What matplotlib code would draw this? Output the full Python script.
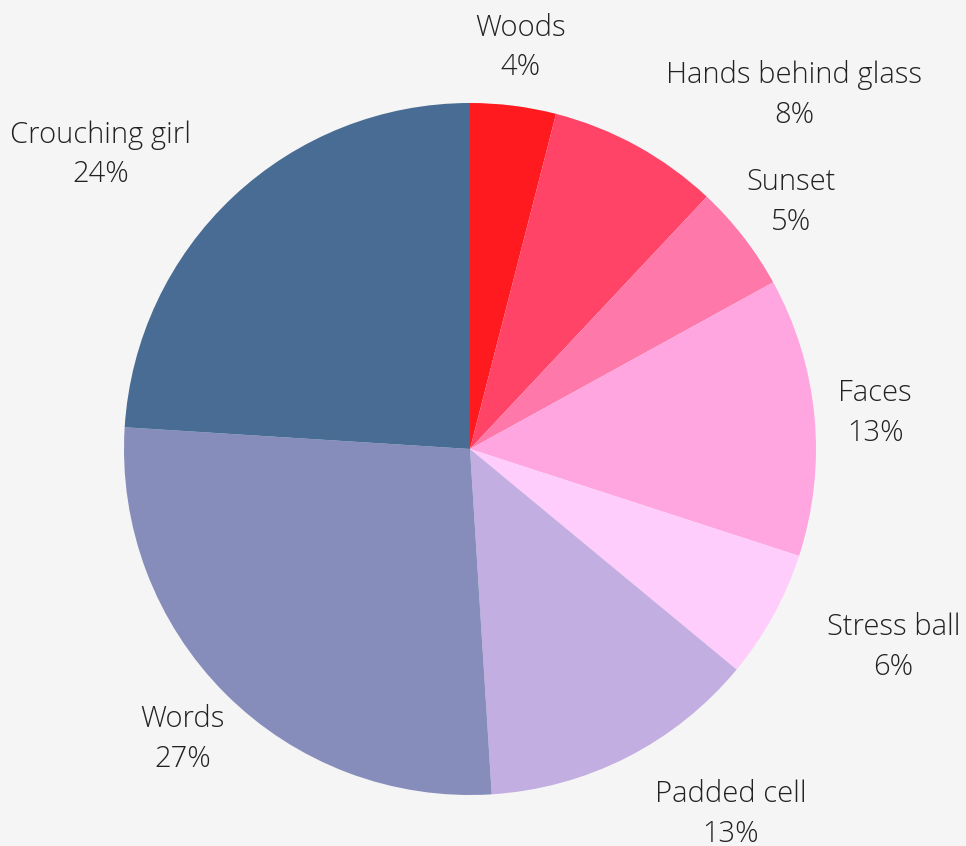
import matplotlib
matplotlib.use("Agg")
import matplotlib.pyplot as plt
import numpy as np
from matplotlib import font_manager

# Slice data, clockwise from 12 o'clock
labels = ["Woods", "Hands behind glass", "Sunset", "Faces", "Stress ball",
          "Padded cell", "Words", "Crouching girl"]
shares = [4, 8, 5, 13, 6, 13, 27, 24]
colors = ["#ff1a1f", "#ff4468", "#ff78aa", "#ffa6e0", "#ffcdfb",
          "#c3aee2", "#868dbb", "#486c93"]
# horizontal alignment of each label block relative to its anchor point
label_align = ["center", "left", "center", "center", "left",
               "left", "center", "right"]

W, H = 966, 846
cx, cy, r = 470, 449, 346

fam = "Open Sans"
names = {f.name for f in font_manager.fontManager.ttflist}
if fam not in names:
    fam = "DejaVu Sans"

fig = plt.figure(figsize=(W / 100, H / 100), dpi=100)
fig.patch.set_facecolor("#f5f5f5")
ax = fig.add_axes([0, 0, 1, 1])
ax.set_facecolor("#f5f5f5")

wedges, _ = ax.pie(shares, colors=colors, startangle=90, counterclock=False,
                   radius=1.0, center=(0, 0), wedgeprops=dict(linewidth=0))

# pie() resets the limits, so set them afterwards
ax.set_xlim(-cx / r, (W - cx) / r)
ax.set_ylim(-(H - cy) / r, cy / r)
ax.set_aspect("equal")
ax.axis("off")

total = sum(shares)
start = 0.0
for lab, val, ha in zip(labels, shares, label_align):
    mid = (start + val / 2) / total * 2 * np.pi
    start += val
    x = 1.176 * np.sin(mid)
    y = 1.176 * np.cos(mid) - 2.5 / r
    ax.text(x, y, f"{lab}\n{val}%", ha=ha, va="center", multialignment="center",
            fontsize=21, family=fam, fontweight="light", color="#222222",
            linespacing=1.45)

fig.savefig("out.png", dpi=100, facecolor=fig.get_facecolor())
